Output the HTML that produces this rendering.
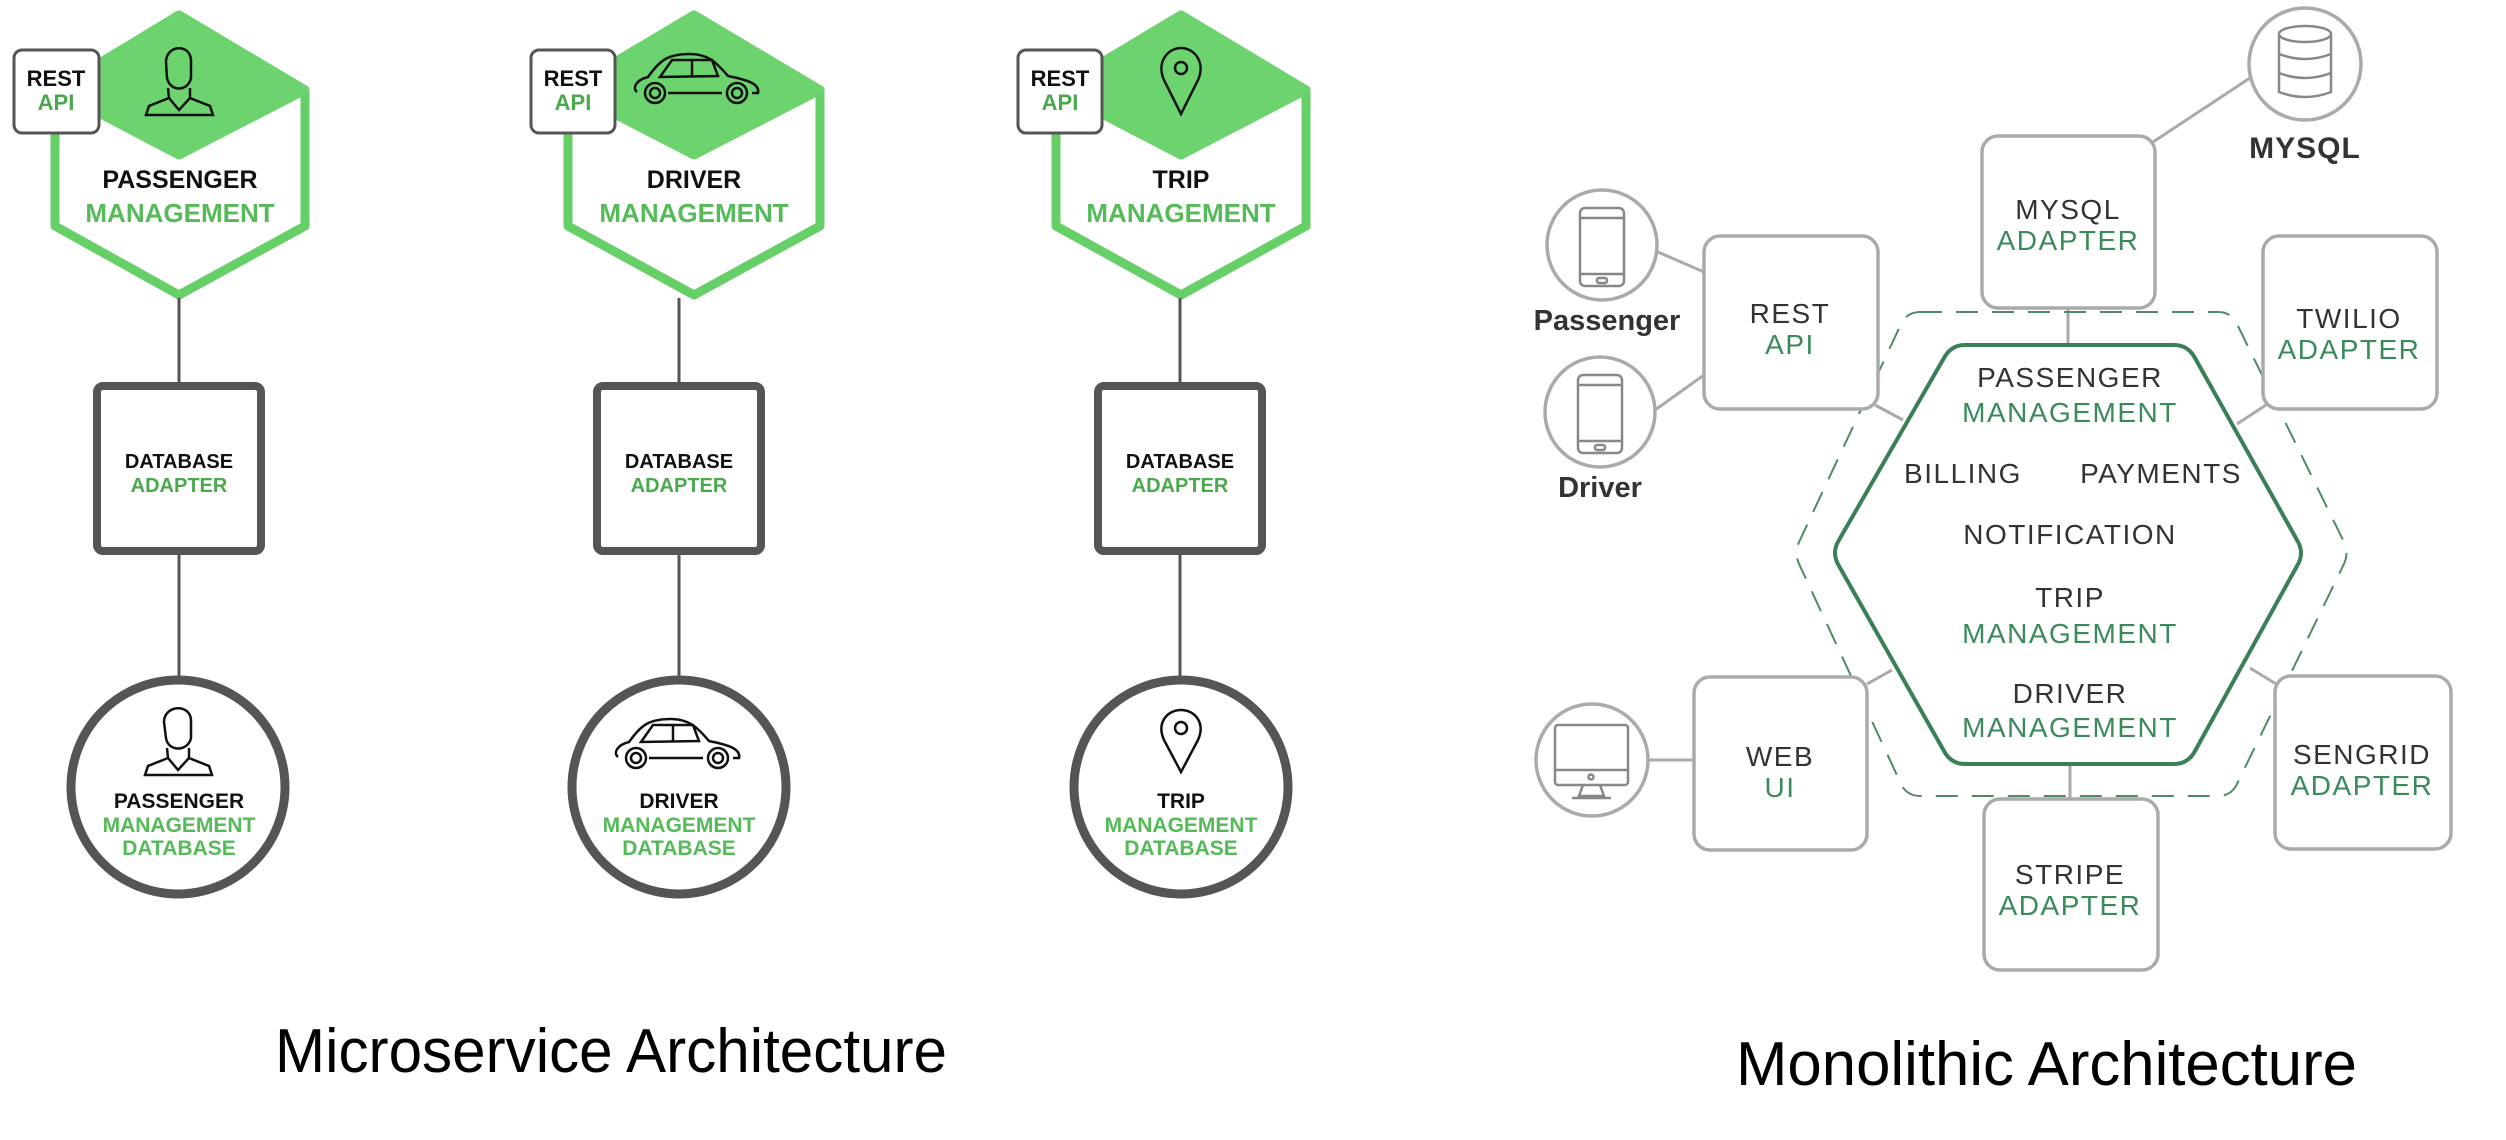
<!DOCTYPE html>
<html><head><meta charset="utf-8"><style>
html,body{margin:0;padding:0;background:#fff;}
svg{display:block;}
.b{font-family:"Liberation Sans",sans-serif;font-weight:bold;}
.r{font-family:"Liberation Sans",sans-serif;}
</style></head><body>
<svg width="2506" height="1140" viewBox="0 0 2506 1140" xmlns="http://www.w3.org/2000/svg">
<rect width="2506" height="1140" fill="#fff"/>

<!-- ============ MICROSERVICE ============ -->
<g id="col1">
  <!-- hex -->
  <polygon points="179,15 305,90 305,226 179,295 55,226 55,90" fill="#fff" stroke="#66cf67" stroke-width="9" stroke-linejoin="round"/>
  <polygon points="179,15 305,90 179,155 55,90" fill="#6dd36e" stroke="#6dd36e" stroke-width="9" stroke-linejoin="round"/>
  <rect x="14" y="50" width="85" height="83" rx="8" fill="#fff" stroke="#555" stroke-width="3"/>
  <text x="56" y="86" text-anchor="middle" class="b" font-size="22" fill="#111">REST</text>
  <text x="56" y="110" text-anchor="middle" class="b" font-size="22" fill="#4aa84d">API</text>
  <text x="180" y="188" text-anchor="middle" class="b" font-size="25" fill="#111">PASSENGER</text>
  <text x="180" y="222" text-anchor="middle" class="b" font-size="26" fill="#55bb58">MANAGEMENT</text>
  <!-- person icon -->
  <g fill="none" stroke="#111" stroke-width="2.5">
    <path d="M166,62 C166,45 190,43 191,60 L191,78 C188,92 170,92 167,78 Z"/>
    <path d="M168,88 L169,98 L149,106 L146,115 L213,115 L210,106 L190,98 L190,88"/>
    <path d="M169,98 L179,110 L190,98"/>
  </g>
  <line x1="179" y1="298" x2="179" y2="383" stroke="#555" stroke-width="3"/>
  <rect x="97" y="386" width="164" height="165" rx="6" fill="#fff" stroke="#555" stroke-width="8"/>
  <text x="179" y="468" text-anchor="middle" class="b" font-size="20" fill="#111">DATABASE</text>
  <text x="179" y="492" text-anchor="middle" class="b" font-size="20" fill="#4aa84d">ADAPTER</text>
  <line x1="179" y1="555" x2="179" y2="677" stroke="#555" stroke-width="3"/>
  <circle cx="178" cy="787" r="107" fill="#fff" stroke="#555" stroke-width="9"/>
  <g fill="none" stroke="#111" stroke-width="2.5">
    <path d="M164,722 C164,705 190,703 191,720 L191,738 C188,752 168,752 166,738 Z"/>
    <path d="M167,748 L168,758 L148,766 L145,775 L212,775 L209,766 L189,758 L189,748"/>
    <path d="M168,758 L178,770 L189,758"/>
  </g>
  <text x="179" y="808" text-anchor="middle" class="b" font-size="21" fill="#111">PASSENGER</text>
  <text x="179" y="832" text-anchor="middle" class="b" font-size="21" fill="#55bb58">MANAGEMENT</text>
  <text x="179" y="855" text-anchor="middle" class="b" font-size="21" fill="#55bb58">DATABASE</text>
</g>

<g id="col2">
  <polygon points="694,15 820,90 820,226 694,295 568,226 568,90" fill="#fff" stroke="#66cf67" stroke-width="9" stroke-linejoin="round"/>
  <polygon points="694,15 820,90 694,155 568,90" fill="#6dd36e" stroke="#6dd36e" stroke-width="9" stroke-linejoin="round"/>
  <rect x="531" y="50" width="84" height="83" rx="8" fill="#fff" stroke="#555" stroke-width="3"/>
  <text x="573" y="86" text-anchor="middle" class="b" font-size="22" fill="#111">REST</text>
  <text x="573" y="110" text-anchor="middle" class="b" font-size="22" fill="#4aa84d">API</text>
  <text x="694" y="188" text-anchor="middle" class="b" font-size="25" fill="#111">DRIVER</text>
  <text x="694" y="222" text-anchor="middle" class="b" font-size="26" fill="#55bb58">MANAGEMENT</text>
  <g fill="none" stroke="#111" stroke-width="2.5">
    <path d="M637,92 C632,88 636,80 648,77 C660,60 668,54 690,54 C708,54 716,62 728,76 C748,80 760,84 758,93 L752,93 M722,93 L668,93 M642,93 Z"/>
    <path d="M660,77 L672,60 L712,60 L718,76 Z"/>
    <line x1="692" y1="60" x2="692" y2="77"/>
    <circle cx="655" cy="93" r="10"/><circle cx="655" cy="93" r="5"/>
    <circle cx="737" cy="93" r="10"/><circle cx="737" cy="93" r="5"/>
  </g>
  <line x1="679" y1="298" x2="679" y2="383" stroke="#555" stroke-width="3"/>
  <rect x="597" y="386" width="164" height="165" rx="6" fill="#fff" stroke="#555" stroke-width="8"/>
  <text x="679" y="468" text-anchor="middle" class="b" font-size="20" fill="#111">DATABASE</text>
  <text x="679" y="492" text-anchor="middle" class="b" font-size="20" fill="#4aa84d">ADAPTER</text>
  <line x1="679" y1="555" x2="679" y2="677" stroke="#555" stroke-width="3"/>
  <circle cx="679" cy="787" r="107" fill="#fff" stroke="#555" stroke-width="9"/>
  <g fill="none" stroke="#111" stroke-width="2.5">
    <path d="M618,757 C613,753 617,745 629,742 C641,725 649,719 671,719 C689,719 697,727 709,741 C729,745 741,749 739,758 L733,758 M703,758 L649,758 M623,758 Z"/>
    <path d="M641,742 L653,725 L693,725 L699,741 Z"/>
    <line x1="673" y1="725" x2="673" y2="742"/>
    <circle cx="636" cy="758" r="10"/><circle cx="636" cy="758" r="5"/>
    <circle cx="718" cy="758" r="10"/><circle cx="718" cy="758" r="5"/>
  </g>
  <text x="679" y="808" text-anchor="middle" class="b" font-size="21" fill="#111">DRIVER</text>
  <text x="679" y="832" text-anchor="middle" class="b" font-size="21" fill="#55bb58">MANAGEMENT</text>
  <text x="679" y="855" text-anchor="middle" class="b" font-size="21" fill="#55bb58">DATABASE</text>
</g>

<g id="col3">
  <polygon points="1181,15 1306,90 1306,226 1181,295 1056,226 1056,90" fill="#fff" stroke="#66cf67" stroke-width="9" stroke-linejoin="round"/>
  <polygon points="1181,15 1306,90 1181,155 1056,90" fill="#6dd36e" stroke="#6dd36e" stroke-width="9" stroke-linejoin="round"/>
  <rect x="1018" y="50" width="84" height="83" rx="8" fill="#fff" stroke="#555" stroke-width="3"/>
  <text x="1060" y="86" text-anchor="middle" class="b" font-size="22" fill="#111">REST</text>
  <text x="1060" y="110" text-anchor="middle" class="b" font-size="22" fill="#4aa84d">API</text>
  <text x="1181" y="188" text-anchor="middle" class="b" font-size="25" fill="#111">TRIP</text>
  <text x="1181" y="222" text-anchor="middle" class="b" font-size="26" fill="#55bb58">MANAGEMENT</text>
  <g fill="none" stroke="#111" stroke-width="2.5">
    <path d="M1181,114 L1164,80 C1156,62 1168,48 1181,48 C1194,48 1206,62 1198,80 Z"/>
    <circle cx="1181" cy="68" r="6"/>
  </g>
  <line x1="1180" y1="298" x2="1180" y2="383" stroke="#555" stroke-width="3"/>
  <rect x="1098" y="386" width="164" height="165" rx="6" fill="#fff" stroke="#555" stroke-width="8"/>
  <text x="1180" y="468" text-anchor="middle" class="b" font-size="20" fill="#111">DATABASE</text>
  <text x="1180" y="492" text-anchor="middle" class="b" font-size="20" fill="#4aa84d">ADAPTER</text>
  <line x1="1180" y1="555" x2="1180" y2="677" stroke="#555" stroke-width="3"/>
  <circle cx="1181" cy="787" r="107" fill="#fff" stroke="#555" stroke-width="9"/>
  <g fill="none" stroke="#111" stroke-width="2.5">
    <path d="M1181,772 L1164,740 C1156,722 1168,710 1181,710 C1194,710 1206,722 1198,740 Z"/>
    <circle cx="1181" cy="728" r="6"/>
  </g>
  <text x="1181" y="808" text-anchor="middle" class="b" font-size="21" fill="#111">TRIP</text>
  <text x="1181" y="832" text-anchor="middle" class="b" font-size="21" fill="#55bb58">MANAGEMENT</text>
  <text x="1181" y="855" text-anchor="middle" class="b" font-size="21" fill="#55bb58">DATABASE</text>
</g>

<text x="275" y="1072" class="r" font-size="62" fill="#000" textLength="672" lengthAdjust="spacingAndGlyphs">Microservice Architecture</text>

<!-- ============ MONOLITHIC ============ -->
<g stroke="#aaa" stroke-width="3" fill="none">
  <line x1="2250" y1="78" x2="2153" y2="142"/>
  <line x1="1658" y1="252" x2="1704" y2="272"/>
  <line x1="1655" y1="410" x2="1704" y2="375"/>
  <line x1="2068" y1="308" x2="2068" y2="345"/>
  <line x1="1875" y1="405" x2="1903" y2="420"/>
  <line x1="2266" y1="405" x2="2237" y2="424"/>
  <line x1="1867" y1="684" x2="1892" y2="670"/>
  <line x1="2250" y1="668" x2="2276" y2="684"/>
  <line x1="1649" y1="760" x2="1694" y2="760"/>
  <line x1="2070" y1="764" x2="2070" y2="799"/>
</g>
<!-- dashed outer -->
<path d="M1920,312 L2218,312 Q2230,312 2236,322 L2343,540 Q2350,553 2343,566 L2236,786 Q2230,796 2218,796 L1920,796 Q1908,796 1902,786 L1800,566 Q1793,553 1800,540 L1902,322 Q1908,312 1920,312 Z" fill="none" stroke="#4f8a66" stroke-width="2" stroke-dasharray="22 14"/>
<!-- inner hex -->
<path d="M1965,345 L2174,345 Q2188,345 2195,358 L2297,540 Q2305,553 2297,566 L2195,751 Q2188,764 2174,764 L1965,764 Q1951,764 1944,751 L1839,566 Q1831,553 1839,540 L1944,358 Q1951,345 1965,345 Z" fill="#fff" stroke="#3b7f56" stroke-width="4"/>

<g fill="#fff" stroke="#aaa" stroke-width="3.5">
  <rect x="1982" y="136" width="173" height="172" rx="16"/>
  <rect x="1704" y="236" width="174" height="173" rx="16"/>
  <rect x="2263" y="236" width="174" height="173" rx="16"/>
  <rect x="1694" y="677" width="173" height="173" rx="16"/>
  <rect x="2275" y="676" width="176" height="173" rx="16"/>
  <rect x="1984" y="799" width="174" height="171" rx="16"/>
  <circle cx="2305" cy="64" r="56"/>
  <circle cx="1602" cy="245" r="55"/>
  <circle cx="1600" cy="412" r="55"/>
  <circle cx="1592" cy="760" r="56"/>
</g>
<!-- icons -->
<g fill="none" stroke="#888" stroke-width="2.5">
  <ellipse cx="2305" cy="34" rx="26" ry="8"/>
  <path d="M2279,34 L2279,92 Q2305,102 2331,92 L2331,34"/>
  <path d="M2279,54 Q2305,64 2331,54 M2279,73 Q2305,83 2331,73"/>
  <rect x="1580" y="208" width="44" height="78" rx="5"/>
  <line x1="1580" y1="218" x2="1624" y2="218"/><line x1="1580" y1="274" x2="1624" y2="274"/>
  <rect x="1597" y="278" width="10" height="5" rx="2"/>
  <rect x="1578" y="375" width="44" height="78" rx="5"/>
  <line x1="1578" y1="385" x2="1622" y2="385"/><line x1="1578" y1="441" x2="1622" y2="441"/>
  <rect x="1595" y="445" width="10" height="5" rx="2"/>
  <rect x="1555" y="725" width="73" height="60" rx="3"/>
  <line x1="1555" y1="770" x2="1628" y2="770"/>
  <circle cx="1591" cy="777" r="2.5"/>
  <path d="M1583,785 L1579,796 L1604,796 L1600,785 M1572,798 L1611,798"/>
</g>

<g class="b" font-size="30" fill="#333" text-anchor="middle">
  <text x="2305" y="158" letter-spacing="1">MYSQL</text>
  <text x="1607" y="330" font-size="29">Passenger</text>
  <text x="1600" y="497" font-size="29">Driver</text>
</g>
<g class="r" font-size="28" text-anchor="middle" letter-spacing="1.5">
  <text x="2068" y="219" fill="#333">MYSQL</text>
  <text x="2068" y="250" fill="#3a8a5c">ADAPTER</text>
  <text x="1790" y="323" fill="#333">REST</text>
  <text x="1790" y="354" fill="#3a8a5c">API</text>
  <text x="2349" y="328" fill="#333">TWILIO</text>
  <text x="2349" y="359" fill="#3a8a5c">ADAPTER</text>
  <text x="2070" y="387" fill="#333">PASSENGER</text>
  <text x="2070" y="422" fill="#3a8a5c">MANAGEMENT</text>
  <text x="1963" y="483" fill="#333">BILLING</text>
  <text x="2161" y="483" fill="#333">PAYMENTS</text>
  <text x="2070" y="544" fill="#333">NOTIFICATION</text>
  <text x="2070" y="607" fill="#333">TRIP</text>
  <text x="2070" y="643" fill="#3a8a5c">MANAGEMENT</text>
  <text x="2070" y="703" fill="#333">DRIVER</text>
  <text x="2070" y="737" fill="#3a8a5c">MANAGEMENT</text>
  <text x="1780" y="766" fill="#333">WEB</text>
  <text x="1780" y="797" fill="#3a8a5c">UI</text>
  <text x="2362" y="764" fill="#333">SENGRID</text>
  <text x="2362" y="795" fill="#3a8a5c">ADAPTER</text>
  <text x="2070" y="884" fill="#333">STRIPE</text>
  <text x="2070" y="915" fill="#3a8a5c">ADAPTER</text>
</g>

<text x="1736" y="1085" class="r" font-size="62" fill="#000" textLength="621" lengthAdjust="spacingAndGlyphs">Monolithic Architecture</text>
</svg>
</body></html>
